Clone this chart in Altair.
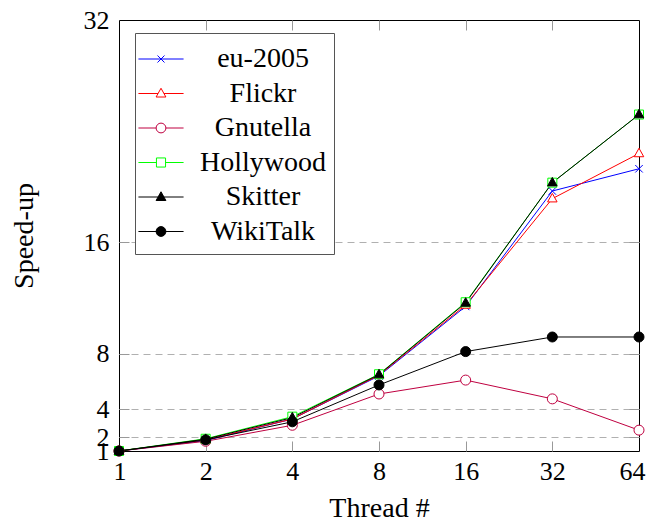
import altair as alt
import pandas as pd

# ---- data ----
threads = [1, 2, 4, 8, 16, 32, 64]
series_names = ["eu-2005", "Flickr", "Gnutella", "Hollywood", "Skitter", "WikiTalk"]
eu2005 = [1.0, 1.75, 3.3, 6.4, 11.4, 19.7, 21.3]
flickr = [1.0, 1.8, 3.3, 6.45, 11.5, 19.15, 22.4]
gnutella = [1.0, 1.7, 2.85, 5.1, 6.1, 4.75, 2.5]
hollywood = [1.0, 1.88, 3.47, 6.52, 11.7, 20.3, 25.2]
skitter = [1.0, 1.85, 3.4, 6.5, 11.65, 20.3, 25.2]
wikitalk = [1.0, 1.8, 3.1, 5.75, 8.15, 9.2, 9.2]
y_ticks = [1, 2, 4, 8, 16, 32]

colors = ["#0000ff", "#ff0000", "#bf0040", "#00ff00", "#000000", "#000000"]
fills = ["transparent", "white", "white", "white", "#000000", "#000000"]

# marker shapes in the plot (unit = sqrt(size)/2 px)
plot_shapes = [
    "M-0.75,-0.75L0.75,0.75M-0.75,0.75L0.75,-0.75",
    "M0,-1.05L0.95,0.65L-0.95,0.65Z",
    "circle",
    "M-0.9,-0.9H0.9V0.9H-0.9Z",
    "M0,-1.05L0.95,0.65L-0.95,0.65Z",
    "circle",
]
# legend symbols: line + marker
L = 1.29
circ = "M0.28,0A0.28,0.28 0 1,1 -0.28,0A0.28,0.28 0 1,1 0.28,0Z"
tri = "M0,-0.3L0.28,0.2L-0.28,0.2Z"
legend_shapes = [
    f"M-{L},0H{L}M-0.2,-0.2L0.2,0.2M-0.2,0.2L0.2,-0.2",
    f"M-{L},0H-0.17M0.17,0H{L}" + tri,
    f"M-{L},0H-0.28M0.28,0H{L}" + circ,
    f"M-{L},0H-0.26M0.26,0H{L}M-0.26,-0.26H0.26V0.26H-0.26Z",
    f"M-{L},0H{L}" + tri,
    f"M-{L},0H{L}" + circ,
]

rows = []
for name, vals in zip(series_names, [eu2005, flickr, gnutella, hollywood, skitter, wikitalk]):
    for t, v in zip(threads, vals):
        rows.append({"thread": t, "speedup": v, "series": name})
df = pd.DataFrame(rows)
legend_df = pd.DataFrame({"series": series_names})

FONT = "Liberation Serif"
TICK = "#999999"

xs = alt.Scale(type="log", base=2, domain=[1, 64], nice=False)
ys = alt.Scale(domain=[1, 32], nice=False, zero=False)

lines = alt.Chart(df).mark_line(strokeWidth=1).encode(
    x=alt.X("thread:Q", scale=xs, axis=alt.Axis(
        orient="bottom", values=threads, title="Thread #", ticks=False, domain=False,
        grid=False, labelFlush=True, labelFlushOffset=6, labelOverlap=False, labelPadding=7,
        titlePadding=10)),
    y=alt.Y("speedup:Q", scale=ys, axis=alt.Axis(
        orient="left", values=y_ticks, title="Speed-up", ticks=False, domain=False,
        grid=False, labelFlush=False, labelOverlap=False, labelPadding=10,
        titlePadding=45)),
    color=alt.Color("series:N", scale=alt.Scale(domain=series_names, range=colors), legend=None),
)

points = alt.Chart(df).mark_point(size=100, strokeWidth=1, opacity=1).encode(
    x=alt.X("thread:Q", scale=xs, axis=None),
    y=alt.Y("speedup:Q", scale=ys, axis=None),
    shape=alt.Shape("series:N", scale=alt.Scale(domain=series_names, range=plot_shapes), legend=None),
    stroke=alt.Stroke("series:N", scale=alt.Scale(domain=series_names, range=colors), legend=None),
    fill=alt.Fill("series:N", scale=alt.Scale(domain=series_names, range=fills), legend=None),
)

leg = alt.Legend(
    title=None, orient="none", legendX=16, legendY=13,
    symbolSize=1225, symbolStrokeWidth=1, symbolOpacity=1,
    labelFont=FONT, labelFontSize=28, labelColor="black",
    labelAlign="center", labelOffset=84, labelLimit=300,
    strokeColor="#555555", fillColor="white", padding=8, rowPadding=2.5,
    cornerRadius=0,
)
legend_layer = alt.Chart(legend_df).mark_point(opacity=0).encode(
    x=alt.value(0), y=alt.value(0),
    shape=alt.Shape("series:N", scale=alt.Scale(domain=series_names, range=legend_shapes), legend=leg),
    stroke=alt.Stroke("series:N", scale=alt.Scale(domain=series_names, range=colors), legend=leg),
    fill=alt.Fill("series:N", scale=alt.Scale(domain=series_names, range=fills), legend=leg),
)


def tick_layer(x_orient, y_orient, grid):
    yax = dict(orient=y_orient, offset=-10, tickSize=10, values=y_ticks[1:-1], labels=False,
               domain=False, ticks=True, tickColor=TICK, title=None, grid=grid)
    if grid:
        yax.update(gridDash=[7, 5], gridColor="#b0b0b0", gridWidth=1)
    return alt.Chart(df).mark_point(opacity=0).encode(
        x=alt.X("thread:Q", scale=xs, axis=alt.Axis(
            orient=x_orient, offset=-10, tickSize=10, values=threads[1:-1], labels=False,
            domain=False, grid=False, ticks=True, tickColor=TICK, title=None)),
        y=alt.Y("speedup:Q", scale=ys, axis=alt.Axis(**yax)),
    )


chart = alt.layer(
    tick_layer("bottom", "left", True),
    lines, points, legend_layer,
    tick_layer("top", "right", False),
).resolve_scale(
    x="independent", y="independent", shape="independent", stroke="independent", fill="independent"
).resolve_axis(
    x="independent", y="independent"
).properties(
    width=520, height=431,
    autosize=alt.AutoSizeParams(type="none"),
    padding={"left": 111, "top": 12, "right": 7, "bottom": 68},
).configure_view(
    stroke="black", strokeWidth=1
).configure_axis(
    labelFont=FONT, labelFontSize=26, labelColor="black",
    titleFont=FONT, titleFontSize=28, titleFontWeight="normal", titleColor="black",
)

chart.save("out.html", embed_options={"renderer": "svg", "actions": False})
